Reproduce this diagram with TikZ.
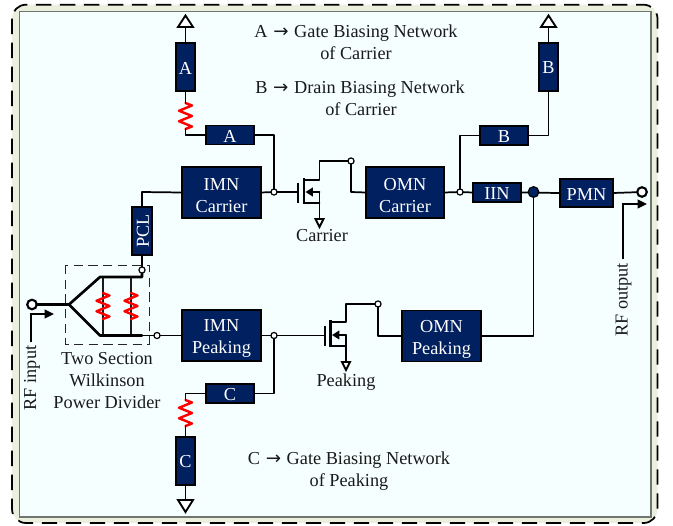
\documentclass[tikz,border=0pt]{standalone}
\usepackage{fontspec}
\setmainfont{Liberation Serif}
\newfontfamily\arrowfont{DejaVu Sans}
\usetikzlibrary{arrows.meta}
\definecolor{navy}{HTML}{002060}
\definecolor{inner}{HTML}{F5FFFF}
\definecolor{band}{HTML}{EBEFDD}
\definecolor{edge}{HTML}{6F766F}
\definecolor{ink}{HTML}{1A1A1A}
\tikzset{
  px/.style={x=0.75pt,y=-0.75pt},
  block/.style={draw=black,line width=1.4pt,fill=navy,text=white,inner sep=0pt,outer sep=0pt,align=center,
    font=\fontsize{13.7}{16.5}\selectfont},
  wire/.style={draw=black,line width=1.3pt,line cap=round,line join=round},
  thick wire/.style={draw=black,line width=2pt,line cap=round,line join=round},
  thin wire/.style={draw=ink,line width=0.9pt},
  dot/.style={circle,draw=black,fill=white,line width=0.9pt,inner sep=0pt,outer sep=0pt,minimum size=4.6pt},
  port/.style={circle,draw=black,fill=white,line width=1.6pt,inner sep=0pt,outer sep=0pt,minimum size=7.2pt},
  hub/.style={circle,draw=black,fill=navy,line width=0.9pt,inner sep=0pt,outer sep=0pt,minimum size=8pt},
  label/.style={text=ink,inner sep=0pt,anchor=base,font=\fontsize{13.7}{16.5}\selectfont},
  terminal/.style={draw=black,fill=white,line width=1.4pt,line join=miter},
  res/.style={draw=red,line width=1.8pt,line join=round,line cap=round},
  sig/.style={draw=black,line width=1.3pt,-{Triangle[length=7pt,width=6.5pt]}},
}
\newcommand{\blk}[6]{\node[block,minimum width=#4*0.75pt,minimum height=#5*0.75pt] (#1) at (#2,#3) {#6};}
\newcommand{\uptwo}{\rule{0pt}{13.5pt}}
\newcommand{\upone}{\rule{0pt}{10.5pt}}
\newcommand{\arr}{\hspace{0.06em}{\arrowfont →}\hspace{0.06em}}
\newcommand{\zig}[3]{% name, x, top y
  \coordinate (#1t) at (#2,#3);
  \coordinate (#1b) at (#2,#3+26);
  \draw[res] (#1t) -- ++(6.5,2.5) -- ++(-13,5.25) -- ++(13,5.25) -- ++(-13,5.25) -- ++(13,5.25) -- (#1b);
}
\begin{document}
\begin{tikzpicture}[px]
\useasboundingbox (0,0) rectangle (673,525);
% frame
\fill[white] (0,0) rectangle (673,525);
\fill[band,rounded corners=10.5pt] (12,4.7) rectangle (657.5,523);
\filldraw[fill=inner,draw=edge,line width=1pt] (19.5,11.5) rectangle (651,517);
\draw[black,line width=1.3pt,dash pattern=on 11.5pt off 6.5pt,rounded corners=10.5pt] (12,4.7) rectangle (657.5,523);
% blocks
\blk{av}{185.5}{67}{19}{48}{\upone A}
\blk{ah}{230}{135}{48}{19}{\upone A}
\blk{imnc}{221.5}{192.5}{79}{51}{\uptwo IMN\\Carrier}
\blk{omnc}{405}{192.5}{78}{51}{\uptwo OMN\\Carrier}
\blk{iin}{497}{192.5}{48.5}{19}{\upone IIN}
\blk{pmn}{586.5}{193}{53}{28}{\upone PMN}
\blk{bh}{504}{135.5}{48}{19}{\upone B}
\blk{bv}{548.5}{67}{19}{48}{\upone B}
\node[block,rotate=90,minimum width=48*0.75pt,minimum height=20*0.75pt] (pcl) at (142,231) {\upone PCL};
\blk{imnp}{221.5}{335.5}{79}{51}{\uptwo IMN\\Peaking}
\blk{omnp}{441.5}{336}{79}{51}{\uptwo OMN\\Peaking}
\blk{ch}{230}{393.5}{48}{19}{\upone C}
\blk{cv}{185.5}{461}{19}{48}{\upone C}
% junctions
\node[dot] (j1) at (274,192) {};
\node[dot] (d1) at (351,161) {};
\node[dot] (j2) at (460,192) {};
\node[port] (out) at (642,192) {};
\node[dot] (j3) at (274,335.5) {};
\node[dot] (d2) at (378,304) {};
\node[dot] (w2) at (157,335.5) {};
\node[port] (in) at (32,304.5) {};
% wilkinson
\draw[black!85,line width=0.75pt,dash pattern=on 7pt off 4pt] (65,265) rectangle (149,344);
\coordinate (wc) at (69,304.5);
\coordinate (wa) at (100,277);
\coordinate (wb) at (100,335.5);
\coordinate (wae) at (142,277);
\coordinate (wbe) at (142,335.5);
\draw[thin wire] (103,277) -- (103,335.5);
\draw[thin wire] (131,277) -- (131,335.5);
\zig{r1}{103}{293}
\zig{r2}{131}{293}
\draw[thick wire] (in) -- (wc) -- (wa) -- (wae) -- (142,270);
\draw[thick wire] (wc) -- (wb) -- (wbe);
\draw[wire] (wbe) -- (w2);
\draw[thick wire] (pcl.west) -- (142,270);
\node[dot] (w1) at (142,270) {};
\draw[wire] (imnc.west) -- (142,192) -- (pcl.east);
\draw[wire] (w2) -- (imnp.west);
% carrier gate path
\zig{ra}{185.5}{103}
\draw[wire] (av.south) -- (rat);
\draw[wire] (rab) -- (185.5,135) -- (ah.west);
\draw[wire] (ah.east) -- (274,135) -- (j1);
\draw[wire] (av.north) -- (185.5,27);
\draw[terminal] (178,27) -- (185.5,15.5) -- (193,27) -- cycle;
\draw[wire] (imnc.east) -- (j1);
% carrier fet
\draw[wire] (j1) -- (298,192);
\draw[black,line width=1.7pt] (298,183) -- (298,203);
\draw[black,line width=1.7pt] (304,178) -- (304,204);
\draw[wire] (304,180) -- (319.5,180) -- (319.5,161) -- (d1);
\draw[wire] (d1) -- (351,192) -- (omnc.west);
\draw[wire,-{Triangle[length=5.5pt,width=6.5pt]}] (319.5,192) -- (305.5,192);
\draw[wire] (304,203) -- (319.5,203);
\draw[wire] (319.5,192) -- (319.5,219);
\draw[terminal] (315.5,219) -- (323.5,219) -- (319.5,227) -- cycle;
% output path
\draw[wire] (omnc.east) -- (j2) -- (iin.west);
\draw[wire] (j2) -- (460,135.5) -- (bh.west);
\draw[wire] (bh.east) -- (548.5,135.5) -- (bv.south);
\draw[wire] (bv.north) -- (548.5,27);
\draw[terminal] (541,27) -- (548.5,15.5) -- (556,27) -- cycle;
\draw[wire] (iin.east) -- (pmn.west);
\draw[wire] (pmn.east) -- (out);
\draw[wire] (533.5,192) -- (533.5,336) -- (omnp.east);
\node[hub] (h) at (533.5,192) {};
% peaking gate path
\draw[wire] (imnp.east) -- (j3);
\draw[wire] (j3) -- (274,393.5) -- (ch.east);
\zig{rc}{185.5}{400}
\draw[wire] (ch.west) -- (185.5,393.5) -- (rct);
\draw[wire] (rcb) -- (cv.north);
\draw[wire] (cv.south) -- (185.5,500);
\draw[terminal] (178,500) -- (193,500) -- (185.5,512) -- cycle;
% peaking fet
\draw[wire] (j3) -- (325,335.5);
\draw[black,line width=1.7pt] (325,325.5) -- (325,346);
\draw[black,line width=1.7pt] (330.5,320) -- (330.5,347);
\draw[wire] (330.5,322) -- (346,322) -- (346,304) -- (d2);
\draw[wire] (d2) -- (378,336) -- (omnp.west);
\draw[wire,-{Triangle[length=5.5pt,width=6.5pt]}] (346,335) -- (332,335);
\draw[wire] (330.5,346) -- (346,346);
\draw[wire] (346,335) -- (346,362);
\draw[terminal] (342,362) -- (350,362) -- (346,370) -- cycle;
% rf arrows
\coordinate (ri0) at (31,342);
\draw[sig] (ri0) -- (31,314) -- (54,314);
\coordinate (ro0) at (623,259);
\draw[sig] (ro0) -- (623,204) -- (647,204);
% labels
\node[label,rotate=90,anchor=center] (rfin) at (32,378) {RF input};
\node[label,rotate=90,anchor=center] (rfout) at (623.5,300) {RF output};
\node[label] (t1) at (356,37) {A \arr{} Gate Biasing Network};
\node[label] (t2) at (356,59) {of Carrier};
\node[label] (t3) at (360,93) {B \arr{} Drain Biasing Network};
\node[label] (t4) at (361,115) {of Carrier};
\node[label] (t5) at (349,464) {C \arr{} Gate Biasing Network};
\node[label] (t6) at (349,486) {of Peaking};
\node[label] (t7) at (322,241) {Carrier};
\node[label] (t8) at (346,386) {Peaking};
\node[label] (t9) at (107,364) {Two Section};
\node[label] (t10) at (107,386) {Wilkinson};
\node[label] (t11) at (107,408) {Power Divider};
\end{tikzpicture}
\end{document}
